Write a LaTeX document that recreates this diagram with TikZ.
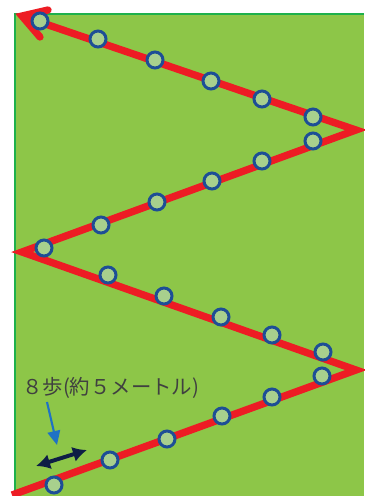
\documentclass[tikz,border=0pt]{standalone}
\usepackage{fontspec}
\usepackage{tikz}
\usetikzlibrary{arrows.meta, calc}
\newfontfamily\jpfont{Noto Sans CJK JP}
\definecolor{fieldgreen}{RGB}{141, 198, 72}
\definecolor{fieldedge} {RGB}{ 30, 176, 76}
\definecolor{routered}  {RGB}{237,  28, 36}
\definecolor{stepfill}  {RGB}{168, 208, 141}
\definecolor{stepedge}  {RGB}{ 29,  78, 150}
\definecolor{pointblue} {RGB}{ 31, 114, 196}
\definecolor{spannavy}  {RGB}{ 14,  30, 69}

\begin{document}
\begin{tikzpicture}[x=0.025cm, y=-0.025cm,
	redline/.style={draw=routered, line width=5.2pt, line join=miter},
	stepmark/.style={draw=stepedge, fill=stepfill, line width=2.1pt},
	lbl/.style={inner sep=0pt, text=black!75, font=\jpfont\fontsize{14.5}{15}\selectfont}]
	\useasboundingbox (0,0) rectangle (364,496);
	% field
	\fill[fieldgreen] (15,14) rectangle (364,496);
	\draw[fieldedge, line width=2pt] (364,14) -- (15,14) -- (15,496);
	% route
	\coordinate (S)  at (12,495);
	\coordinate (R1) at (356,370);
	\coordinate (L1) at (22,252);
	\coordinate (R2) at (356,130);
	\coordinate (E)  at (22,16);
	\draw[redline] (S) -- (R1) -- (L1) -- (R2) -- (E);
	\draw[redline, line cap=round] (48,10) -- (E) -- (40,37);
	% steps
	\foreach \x/\y in {54/485, 110/460, 167/439, 222/416, 272/397, 322/376,
		323/352, 272/335, 221/317, 164/296, 108/275, 44/248,
		101/225, 157/202, 212/181, 262/161, 313/141,
		313/117, 262/99, 211/81, 155/60, 98/39, 40/21}
		\draw[stepmark] (\x,\y) circle[radius=0.2cm];
	% label
	\node[lbl, anchor=base west] (steps) at (22,394) {８歩(約５メートル)};
	\coordinate (ptrtail) at (47,402);
	\coordinate (ptrtip)  at (57,445);
	\draw[pointblue, line width=1.5pt, -{Triangle[length=10pt, width=9pt]}] (ptrtail) -- (ptrtip);
	\coordinate (spanA) at (36,466);
	\coordinate (spanB) at (87,450);
	\draw[spannavy, line width=2.8pt, {Latex[length=10pt, width=11pt]}-{Latex[length=10pt, width=11pt]}] (spanA) -- (spanB);
\end{tikzpicture}
\end{document}
